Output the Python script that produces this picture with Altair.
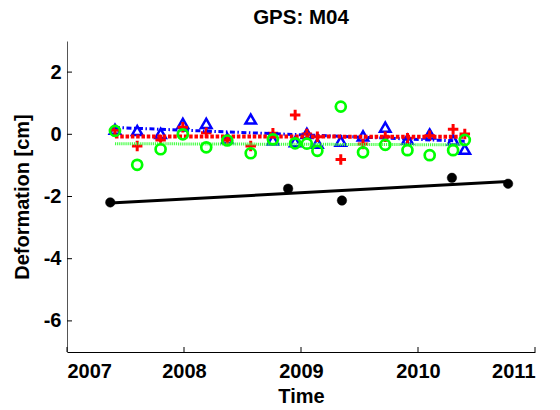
import altair as alt
import pandas as pd

# Observation epochs (decimal years) shared by the three InSAR components
epochs = [2007.41, 2007.60, 2007.80, 2007.99, 2008.19, 2008.37, 2008.57, 2008.76,
          2008.95, 2009.05, 2009.14, 2009.34, 2009.53, 2009.72, 2009.91, 2010.10,
          2010.30, 2010.40]
blue_vals = [0.16, 0.12, 0.03, 0.35, 0.35, -0.13, 0.49, -0.18, -0.24, 0.03,
             -0.29, -0.22, -0.05, 0.23, -0.16, 0.01, -0.18, -0.48]
red_vals = [0.14, -0.38, -0.18, 0.23, 0.05, -0.18, -0.38, 0.03, 0.62, 0.01,
            -0.08, -0.81, -0.31, -0.08, -0.13, -0.05, 0.16, 0.01]
green_vals = [0.11, -0.98, -0.48, 0.00, -0.42, -0.20, -0.61, -0.16, -0.29, -0.30,
              -0.53, 0.89, -0.58, -0.34, -0.51, -0.67, -0.51, -0.18]

# GPS station M04
gps_epochs = [2007.37, 2008.89, 2009.35, 2010.29, 2010.77]
gps_vals = [-2.19, -1.75, -2.13, -1.40, -1.59]

x_ticks = [2007, 2008, 2009, 2010, 2011]
y_ticks = [-6, -4, -2, 0, 2]
title_text = ["GPS: M04"]

W, H = 468, 311
FONT = "Liberation Sans"

blue_df = pd.DataFrame({"t": epochs, "v": blue_vals})
red_df = pd.DataFrame({"t": epochs, "v": red_vals})
green_df = pd.DataFrame({"t": epochs, "v": green_vals})
gps_df = pd.DataFrame({"t": gps_epochs, "v": gps_vals})

x_enc = alt.X("t:Q", scale=alt.Scale(domain=[2007, 2011], nice=False, zero=False),
              axis=alt.Axis(values=x_ticks, labelExpr="'' + datum.value", title="Time",
                            tickSize=0, labelPadding=9, grid=False, domainColor="black",
                            titleY=50, titleBaseline="alphabetic"))
y_enc = alt.Y("v:Q", scale=alt.Scale(domain=[-7, 3], nice=False, zero=False),
              axis=alt.Axis(values=y_ticks, labelExpr="'' + datum.value",
                            title="Deformation [cm]", tickSize=0,
                            labelPadding=6, grid=False, domainColor="#555555",
                            titleX=-45, titleY=H / 2, titleAngle=270,
                            titleBaseline="middle", titleAlign="center"))

plus_path = "M-1,0L1,0M0,-1L0,1"

blue_pts = alt.Chart(blue_df).mark_point(
    shape="triangle-up", size=110, filled=False, stroke="#0000ff", strokeWidth=2.5, opacity=1
).encode(x=x_enc, y=y_enc)
red_pts = alt.Chart(red_df).mark_point(
    shape=plus_path, size=110, filled=False, stroke="#ff0000", strokeWidth=3, opacity=1
).encode(x=x_enc, y=y_enc)
green_pts = alt.Chart(green_df).mark_point(
    shape="circle", size=100, filled=False, stroke="#00ff00", strokeWidth=2.7, opacity=1
).encode(x=x_enc, y=y_enc)
gps_pts = alt.Chart(gps_df).mark_point(
    shape="circle", size=90, filled=True, fill="black", stroke="black", strokeWidth=0.5, opacity=1
).encode(x=x_enc, y=y_enc)

blue_fit = alt.Chart(blue_df).transform_regression("t", "v").mark_line(
    color="#0000ff", strokeWidth=3, strokeDash=[5, 2.5, 1.5, 2.5]
).encode(x=x_enc, y=y_enc)
red_fit = alt.Chart(red_df).transform_regression("t", "v").mark_line(
    color="#ff0000", strokeWidth=4, strokeDash=[3.5, 1.8]
).encode(x=x_enc, y=y_enc)
green_fit = alt.Chart(green_df).transform_regression("t", "v").mark_line(
    color="#44ff44", strokeWidth=3, strokeDash=[1.2, 0.9], opacity=1
).encode(x=x_enc, y=y_enc)
gps_fit = alt.Chart(gps_df).transform_regression("t", "v").mark_line(
    color="black", strokeWidth=3
).encode(x=x_enc, y=y_enc)

# Inward-pointing tick marks
ytick_rules = alt.Chart(pd.DataFrame({"v": y_ticks})).mark_rule(
    color="black", strokeWidth=1
).encode(y=alt.Y("v:Q", scale=alt.Scale(domain=[-7, 3], nice=False, zero=False)),
         x=alt.value(0), x2=alt.value(5))
xtick_rules = alt.Chart(pd.DataFrame({"t": x_ticks})).mark_rule(
    color="black", strokeWidth=1
).encode(x=alt.X("t:Q", scale=alt.Scale(domain=[2007, 2011], nice=False, zero=False)),
         y=alt.value(H), y2=alt.value(H - 5))

# Plot title, centred over the axes
title_mark = alt.Chart(pd.DataFrame({"label": title_text})).mark_text(
    font=FONT, fontSize=20.5, fontWeight="bold", color="black",
    align="center", baseline="alphabetic"
).encode(text="label:N", x=alt.value(W / 2), y=alt.value(-17))

chart = alt.layer(
    gps_fit, gps_pts,
    blue_pts, red_pts,
    green_fit, blue_fit, red_fit,
    green_pts,
    ytick_rules, xtick_rules,
    title_mark,
).properties(
    width=W, height=H,
    autosize=alt.AutoSizeParams(type="none"),
    padding={"left": 67, "top": 41, "right": 25, "bottom": 58},
    background="white",
).configure_view(stroke=None).configure_axis(
    labelFont=FONT, labelFontSize=20, labelFontWeight="bold", labelColor="black",
    titleFont=FONT, titleFontSize=20, titleFontWeight="bold", titleColor="black",
    domainWidth=1,
)

chart.save("out.html", embed_options={"renderer": "svg", "actions": False})
